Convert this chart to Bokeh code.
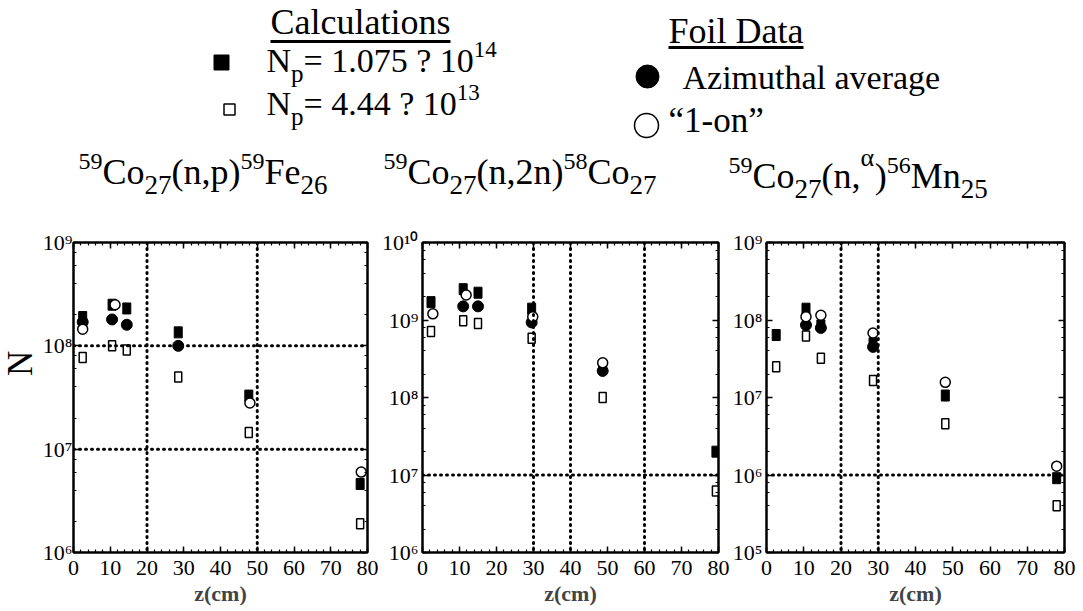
import math
from bokeh.plotting import figure
from bokeh.layouts import column, row
from bokeh.models import (Range1d, ColumnDataSource, Span, LinearAxis, LogAxis,
                          SingleIntervalTicker, LogTicker, CustomJSTickFormatter)
from bokeh.embed import file_html
from bokeh.resources import INLINE
from bokeh.core.properties import value

FONT = "Liberation Serif"

# ---------------- data ----------------
# Panel 1: 59Co(n,p)59Fe
p1_z_calc = [2.5, 10.5, 14.5, 28.5, 47.7, 78.0]
p1_calc_hi = [1.9e8, 2.5e8, 2.3e8, 1.35e8, 3.3e7, 4.6e6]      # Np = 1.075e14
p1_calc_lo = [7.7e7, 1.0e8, 9.1e7, 5.0e7, 1.45e7, 1.9e6]      # Np = 4.44e13
p1_z_avg = [2.5, 10.5, 14.5, 28.5]
p1_avg = [1.7e8, 1.8e8, 1.6e8, 1.0e8]                          # azimuthal average
p1_z_one = [2.5, 11.3, 48.0, 78.3]
p1_one = [1.45e8, 2.5e8, 2.8e7, 6.0e6]                         # "1-on"

# Panel 2: 59Co(n,2n)58Co
p2_z_calc = [2.3, 11.0, 15.0, 29.5, 48.7, 79.3]
p2_calc_hi = [1.7e9, 2.5e9, 2.25e9, 1.4e9, 2.4e8, 2.0e7]
p2_calc_lo = [7.1e8, 9.8e8, 9.0e8, 5.8e8, 1.0e8, 6.2e6]
p2_z_avg = [11.0, 15.0, 29.5, 48.7]
p2_avg = [1.5e9, 1.5e9, 9.3e8, 2.2e8]
p2_z_one = [2.8, 11.8, 29.8, 48.7]
p2_one = [1.2e9, 2.1e9, 1.1e9, 2.8e8]

# Panel 3: 59Co(n,alpha)56Mn
p3_z_calc = [2.6, 10.6, 14.6, 28.6, 48.0, 77.9]
p3_calc_hi = [6.4e7, 1.4e8, 8.5e7, 5.0e7, 1.06e7, 9.1e5]
p3_calc_lo = [2.5e7, 6.2e7, 3.2e7, 1.66e7, 4.6e6, 4.0e5]
p3_z_avg = [10.6, 14.6, 28.6]
p3_avg = [8.6e7, 7.9e7, 4.5e7]
p3_z_one = [10.6, 14.6, 28.6, 48.0, 77.9]
p3_one = [1.1e8, 1.15e8, 6.8e7, 1.57e7, 1.3e6]

# dotted reference lines in each panel
p1_vlines = [20, 50]
p1_hlines = [1e8, 1e7]
p2_vlines = [30, 40, 60]
p2_hlines = [1e7]
p3_vlines = [20, 30]
p3_hlines = [1e6]

x_ticks_interval = 10

# ---------------- layout constants ----------------
HDR_H = 205
ROW_H = 403
TOP_B = 37
BOT_B = 56
YLAB_W = 39
BASE_FIX = 0.33   # renderer puts the alphabetic baseline ~0.33 em low; compensate

# Times-like advance widths (em)
W = {' ': .25, '(': .333, ')': .333, ',': .25, '-': .333, '.': .25, '=': .564, '?': .444,
     'A': .722, 'C': .667, 'D': .722, 'F': .556, 'M': .889, 'N': .722,
     'a': .444, 'c': .444, 'e': .444, 'g': .5, 'h': .5, 'i': .278, 'l': .278, 'm': .778,
     'n': .5, 'o': .5, 'p': .5, 'r': .333, 's': .389, 't': .278, 'u': .5, 'v': .5, 'z': .444,
     '\u201c': .444, '\u201d': .444, '\u03b1': .55}


def tw(s, size):
    return sum(W.get(c, .5) for c in s) * size


# ---------------- header ----------------
hdr = figure(width=1075, height=HDR_H, x_range=Range1d(0, 1075), y_range=Range1d(HDR_H, 0),
             output_backend="svg", toolbar_location=None, min_border=0,
             x_axis_location=None, y_axis_location=None)
hdr.grid.visible = False
hdr.outline_line_color = None

hx, hy, ht, hs = [], [], [], []


def rich(x0, base, segs):
    x = x0
    for t, sz, dy in segs:
        hx.append(x)
        hy.append(base + dy - BASE_FIX * sz)
        ht.append(t)
        hs.append(f"{sz}px")
        x += tw(t, sz)
    return x


ul_x0, ul_x1, ul_y = [], [], []
e = rich(270, 33, [("Calculations", 36, 0)])
ul_x0.append(270); ul_x1.append(e); ul_y.append(41)
e = rich(668, 42, [("Foil Data", 36, 0)])
ul_x0.append(668); ul_x1.append(e); ul_y.append(47)

rich(266, 71, [("N", 34, 0), ("p", 25, 10), ("= 1.075 ? 10", 34, 0), ("14", 23, -14)])
rich(266, 114, [("N", 34, 0), ("p", 25, 10), ("= 4.44 ? 10", 34, 0), ("13", 23, -14)])
rich(682, 88, [("Azimuthal  average", 34, 0)])
rich(668, 132, [("\u201c1-on\u201d", 35, 0)])

rich(78, 183, [("59", 24, -14), ("Co", 36, 0), ("27", 27, 10), ("(n,p)", 36, 0),
               ("59", 24, -14), ("Fe", 36, 0), ("26", 27, 10)])
rich(383, 183, [("59", 24, -14), ("Co", 36, 0), ("27", 27, 10), ("(n,2n)", 36, 0),
                ("58", 24, -14), ("Co", 36, 0), ("27", 27, 10)])
rich(728, 187, [("59", 24, -14), ("Co", 36, 0), ("27", 27, 10), ("(n,", 36, 0),
                ("\u03b1", 26, -21), (")", 36, 0), ("56", 24, -14), ("Mn", 36, 0), ("25", 27, 10)])

hdr.text(x="x", y="y", text="t", text_font_size="fs", text_font=value(FONT),
         text_baseline="alphabetic", text_align="left", text_color="black",
         text_line_height=1.0,
         source=ColumnDataSource(dict(x=hx, y=hy, t=ht, fs=hs)))
hdr.segment(x0=ul_x0, y0=ul_y, x1=ul_x1, y1=ul_y, line_color="black", line_width=3)

# legend keys
hdr.scatter(x=[221], y=[62], marker="square", size=15, fill_color="black", line_color="black")
hdr.scatter(x=[229], y=[109], marker="square", size=11, fill_color="white",
            line_color="black", line_width=1.5)
hdr.scatter(x=[647], y=[76], marker="circle", size=23, fill_color="black", line_color="black")
hdr.scatter(x=[646], y=[125], marker="circle", size=24, fill_color="white",
            line_color="black", line_width=1.5)

# ---------------- y title strip ----------------
ylab = figure(width=YLAB_W, height=ROW_H, x_range=Range1d(0, YLAB_W), y_range=Range1d(ROW_H, 0),
              output_backend="svg", toolbar_location=None, min_border=0,
              x_axis_location=None, y_axis_location=None)
ylab.grid.visible = False
ylab.outline_line_color = None
ylab.text(x=[YLAB_W / 2], y=[362 - HDR_H], text=["N"], angle=math.pi / 2, text_align="center",
          text_baseline="middle", text_font=value(FONT), text_font_size="35px",
          text_color="black", text_line_height=1.0)

# ---------------- panels ----------------
YFMT = """
const sup = {"0":"\u2070","1":"\u00b9","2":"\u00b2","3":"\u00b3","4":"\u2074",
             "5":"\u2075","6":"\u2076","7":"\u2077","8":"\u2078","9":"\u2079","-":"\u207b"};
const e = Math.round(Math.log10(tick));
return "10" + String(e).split("").map(c => sup[c]).join("");
"""


def style_axis(ax, show, standoff=4):
    ax.axis_line_width = 2
    ax.axis_line_color = "black"
    ax.major_tick_in = 6
    ax.major_tick_out = 0
    ax.minor_tick_in = 3
    ax.minor_tick_out = 0
    ax.major_tick_line_width = 1.5
    ax.minor_tick_line_width = 1.2
    ax.major_tick_line_color = "black"
    ax.minor_tick_line_color = "black"
    if show:
        ax.major_label_text_font = FONT
        ax.major_label_text_font_size = "22px"
        ax.major_label_text_color = "black"
        ax.major_label_standoff = standoff
    else:
        ax.major_label_text_font_size = "0px"
        ax.major_label_standoff = 0
        ax.formatter = CustomJSTickFormatter(code="return ''")


def make_panel(width, bl, br, ylo, yhi, vlines, hlines, zc, hi, lo, za, avg, zo, one, ystand=4):
    p = figure(width=width, height=ROW_H, x_range=Range1d(0, 80), y_range=Range1d(ylo, yhi),
               y_axis_type="log", output_backend="svg", toolbar_location=None,
               min_border_left=bl, min_border_right=br, min_border_top=TOP_B,
               min_border_bottom=BOT_B)
    p.grid.visible = False
    p.outline_line_color = "black"
    p.outline_line_width = 2

    xb = p.below[0]
    xb.ticker = SingleIntervalTicker(interval=x_ticks_interval, num_minor_ticks=5)
    style_axis(xb, True, standoff=8)
    xb.axis_label = "z(cm)"
    xb.axis_label_text_font = FONT
    xb.axis_label_text_font_size = "22px"
    xb.axis_label_text_font_style = "bold"
    xb.axis_label_standoff = 3

    yl = p.left[0]
    yl.ticker = LogTicker()
    yl.formatter = CustomJSTickFormatter(code=YFMT)
    style_axis(yl, True, standoff=ystand)

    xt = LinearAxis(ticker=SingleIntervalTicker(interval=x_ticks_interval, num_minor_ticks=5))
    style_axis(xt, False)
    p.add_layout(xt, "above")
    yr = LogAxis(ticker=LogTicker())
    style_axis(yr, False)
    p.add_layout(yr, "right")

    for v in vlines:
        p.add_layout(Span(location=v, dimension="height", line_color="black", line_width=3,
                          line_dash="1 5", line_cap="round"))
    for h in hlines:
        p.add_layout(Span(location=h, dimension="width", line_color="black", line_width=3,
                          line_dash="1 5", line_cap="round"))

    p.rect(x=zc, y=hi, width=8, height=11, width_units="screen", height_units="screen",
           fill_color="black", line_color="black")
    p.scatter(x=za, y=avg, marker="circle", size=11, fill_color="black", line_color="black")
    p.scatter(x=zo, y=one, marker="circle", size=10, fill_color="white", line_color="black",
              line_width=1.5)
    p.rect(x=zc, y=lo, width=7, height=10, width_units="screen", height_units="screen",
           fill_color="white", line_color="black", line_width=1.5)
    return p


p1 = make_panel(339, 34, 11, 1e6, 1e9, p1_vlines, p1_hlines, p1_z_calc, p1_calc_hi,
                p1_calc_lo, p1_z_avg, p1_avg, p1_z_one, p1_one, ystand=1)
p2 = make_panel(351, 40, 11, 1e6, 1e10, p2_vlines, p2_hlines, p2_z_calc, p2_calc_hi,
                p2_calc_lo, p2_z_avg, p2_avg, p2_z_one, p2_one)
p3 = make_panel(346, 36, 11, 1e5, 1e9, p3_vlines, p3_hlines, p3_z_calc, p3_calc_hi,
                p3_calc_lo, p3_z_avg, p3_avg, p3_z_one, p3_one)

layout = column(hdr, row(ylab, p1, p2, p3))
open("out.html", "w", encoding="utf-8").write(file_html(layout, INLINE))
